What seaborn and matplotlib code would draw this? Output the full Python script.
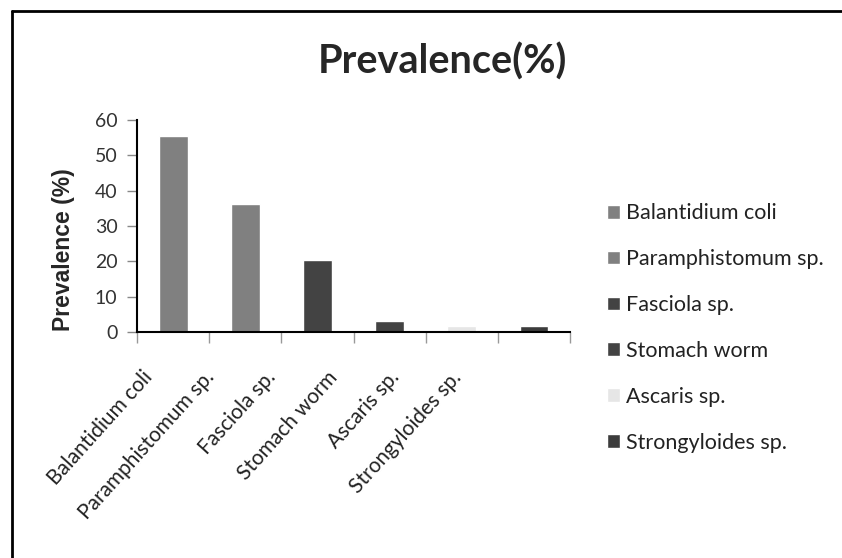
import matplotlib
matplotlib.use("Agg")
import matplotlib.pyplot as plt
from matplotlib.lines import Line2D
from matplotlib.ticker import FixedLocator
from matplotlib.transforms import ScaledTranslation
import seaborn as sns
import pandas as pd

# Data
parasites = ["Balantidium coli", "Paramphistomum sp.", "Fasciola sp.",
             "Stomach worm", "Ascaris sp.", "Strongyloides sp."]
prevalence = [55.6, 36.3, 20.3, 3.2, 1.6, 1.7]
bar_colors = ["#808080", "#808080", "#434343", "#434343", "#e6e6e6", "#3c3c3c"]

df = pd.DataFrame({"Parasite": parasites, "Prevalence": prevalence})

sns.set_style("white")
plt.rcParams["font.family"] = ["Lato", "DejaVu Sans"]

fig = plt.figure(figsize=(8.42, 5.58), dpi=100)
ax = fig.add_axes([0.1627, 0.405, 0.5143, 0.38])

sns.barplot(data=df, x="Parasite", y="Prevalence", hue="Parasite",
            palette=dict(zip(parasites, bar_colors)), width=0.4,
            dodge=False, legend=True, ax=ax)

ax.set_xlim(-0.5, len(parasites) - 0.5)
ax.set_ylim(0, 60)
ax.set_yticks(range(0, 61, 10))

# ticks between categories, like the spreadsheet original
ax.xaxis.set_minor_locator(FixedLocator([i - 0.5 for i in range(len(parasites) + 1)]))
ax.tick_params(axis="x", which="major", length=0, pad=0)
ax.tick_params(axis="x", which="minor", length=8, width=1, color="#999999",
               direction="out", bottom=True)
ax.tick_params(axis="y", length=7, width=1, color="#888888", direction="out",
               left=True, labelsize=14, labelcolor="#333333", pad=7)

# labels in the original sit a little left of their slots and closer together
for i, lab in enumerate(ax.get_xticklabels()):
    lab.set_rotation(48)
    lab.set_ha("right")
    lab.set_va("center")
    lab.set_rotation_mode("anchor")
    lab.set_fontsize(15)
    lab.set_color("#222222")
    dx = (-24 - 10.4 * i) / 100
    lab.set_transform(lab.get_transform() + ScaledTranslation(dx, -0.42, fig.dpi_scale_trans))

for side in ["top", "right"]:
    ax.spines[side].set_visible(False)
for side in ["left", "bottom"]:
    ax.spines[side].set_color("black")
    ax.spines[side].set_linewidth(1.5)

ax.set_xlabel("")
ax.set_ylabel("Prevalence (%)", fontsize=16.5, fontweight="bold",
              family=["Liberation Sans", "DejaVu Sans"])
ax.yaxis.set_label_coords(-0.143, 0.39)

handles, labels = ax.get_legend_handles_labels()
ax.legend(handles, labels, loc="center left",
          bbox_to_anchor=(607 / 842, 1 - 328 / 558), bbox_transform=fig.transFigure,
          frameon=False, fontsize=15.5, handlelength=0.6, handleheight=0.6,
          handletextpad=0.3, labelspacing=1.2, borderpad=0, borderaxespad=0,
          labelcolor="#222222")

fig.text(442 / 842, 1 - 62 / 558, "Prevalence(%)", ha="center", va="center",
         fontsize=28.5, fontweight="bold")

# outer frame (left and top edges visible in the original)
fig.add_artist(Line2D([12 / 842, 12 / 842], [0, 1 - 11 / 558],
                      transform=fig.transFigure, color="black", lw=2))
fig.add_artist(Line2D([12 / 842, 1], [1 - 11 / 558, 1 - 11 / 558],
                      transform=fig.transFigure, color="black", lw=2))

fig.savefig("out.png", dpi=100)
